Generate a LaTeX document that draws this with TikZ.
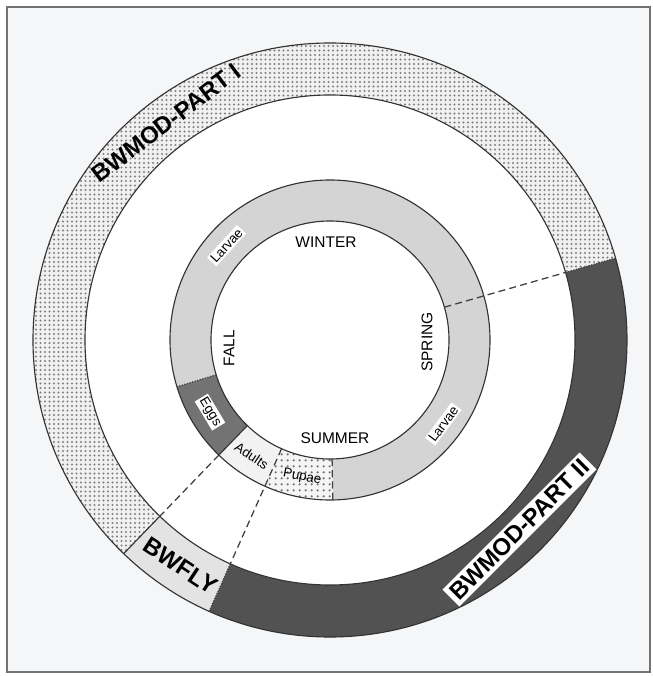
\documentclass[tikz,border=0pt]{standalone}
\usepackage{fontspec}
\setmainfont{Liberation Sans}
\usepackage{xcolor}
\usetikzlibrary{patterns.meta}
\definecolor{paper}{RGB}{244,246,247}
\begin{document}
\begin{tikzpicture}[x=0.025cm, y=0.025cm,
  ring/.style={draw=black!80, line width=0.8pt},
  cut/.style={draw=black!75, line width=0.9pt, dash pattern=on 5pt off 3pt},
  seam/.style={draw=black!75, line width=0.9pt, densely dotted},
  partone/.style={fill=black!6, postaction={pattern={Dots[distance=3.2pt, radius=0.85pt]}, pattern color=black!50}},
  flyband/.style={fill=black!11},
  parttwo/.style={fill=black!68},
  larvaeband/.style={fill=black!17},
  eggband/.style={fill=black!55},
  adultband/.style={fill=black!5},
  pupaband/.style={fill=black!4, postaction={pattern={Dots[distance=4pt, radius=0.9pt]}, pattern color=black!55}},
  bigname/.style={font=\fontsize{17}{17}\selectfont\bfseries, inner sep=2.5pt},
  stagename/.style={font=\fontsize{9.5}{10}\selectfont, inner sep=1.2pt},
  seasonname/.style={font=\fontsize{11}{11}\selectfont}
]
\useasboundingbox[fill=white] (-330,340) rectangle (322,-336);
\draw[black!55, line width=0.8pt, fill=paper] (-323,333) rectangle (320,-332);

\foreach \from/\to/\look in {16/226/partone, 226/246/flyband, 246/376/parttwo}
  \path[\look] (\from:297) arc[start angle=\from, end angle=\to, radius=297]
    -- (\to:245) arc[start angle=\to, end angle=\from, radius=245] -- cycle;
\fill[white] (0,0) circle[radius=245];
\foreach \from/\to/\look in {-89/197/larvaeband, 197/226/eggband, 226/246/adultband, 246/271/pupaband}
  \path[\look] (\from:160) arc[start angle=\from, end angle=\to, radius=160]
    -- (\to:119) arc[start angle=\to, end angle=\from, radius=119] -- cycle;

\foreach \r in {297,245,160,119}
  \draw[ring] (0,0) circle[radius=\r];

\coordinate (springin) at (16:119);
\coordinate (springout) at (16:245);
\coordinate (springedge) at (16:297);
\coordinate (eggsin) at (197:119);
\coordinate (eggsout) at (197:160);
\coordinate (adultsin) at (226:119);
\coordinate (adultsout) at (226:160);
\coordinate (flyin) at (226:245);
\coordinate (flyedge) at (226:297);
\coordinate (pupaein) at (246:119);
\coordinate (flyendin) at (246:245);
\coordinate (flyendedge) at (246:297);
\coordinate (larvaein) at (271:119);
\coordinate (larvaeout) at (271:160);

\draw[cut] (springin) -- (springout);
\draw[seam] (springout) -- (springedge);
\draw[seam] (eggsin) -- (eggsout);
\draw[ring] (adultsin) -- (adultsout);
\draw[cut] (adultsout) -- (flyin);
\draw[ring] (flyin) -- (flyedge);
\draw[cut] (pupaein) -- (flyendin);
\draw[seam] (flyendin) -- (flyendedge);
\draw[cut] (larvaein) -- (larvaeout);

\node[bigname, rotate=37] (partI) at (127:272) {BWMOD-PART I};
\node[bigname, rotate=-33.5] (fly) at (236.5:271) {BWFLY};
\node[bigname, fill=white, rotate=45] (partII) at (-45:268) {BWMOD-PART II};

\node[stagename, fill=white, rotate=47.6] (larvaefall) at (137.6:140) {Larvae};
\node[stagename, fill=white, rotate=53.5] (larvaespring) at (323.5:141) {Larvae};
\node[stagename, fill=white, rotate=-59] (eggs) at (211:140) {Eggs};
\node[stagename, rotate=-34] (adults) at (236:140) {Adults};
\node[stagename, rotate=-11.5] (pupae) at (258.5:140) {Pupae};

\node[seasonname] (winter) at (-4,98) {WINTER};
\node[seasonname, rotate=90] (spring) at (97,-2) {SPRING};
\node[seasonname] (summer) at (5,-98) {SUMMER};
\node[seasonname, rotate=90] (fall) at (-101,-8) {FALL};
\end{tikzpicture}
\end{document}
